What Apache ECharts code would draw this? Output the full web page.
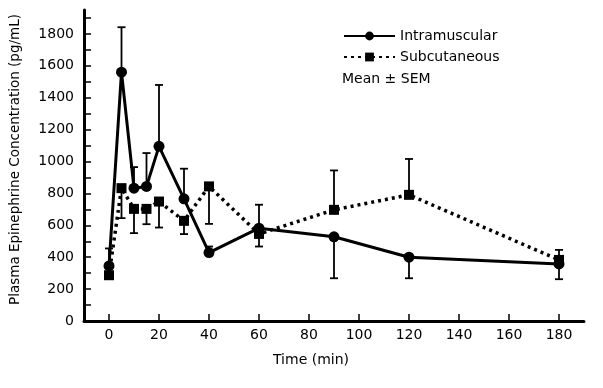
<!DOCTYPE html>
<html>
<head>
<meta charset="utf-8">
<script src="https://cdn.jsdelivr.net/npm/echarts@6/dist/echarts.min.js"></script>
<style>
html,body{margin:0;padding:0;background:#fff;}
#c{width:603px;height:388px;}
</style>
</head>
<body>
<div id="c"></div>
<script>
// Data
var times = [0, 5, 10, 15, 20, 30, 40, 60, 90, 120, 180];
var imMean = [345, 1560, 833, 844, 1095, 766, 429, 582, 528, 400, 358];
var imErrEnd = [455, 1842, 965, 1053, 1480, 955, 467, 729, 268, 268, 262];
var scMean = [287, 833, 703, 703, 749, 628, 844, 546, 697, 791, 383];
var scErrEnd = [287, 645, 551, 607, 586, 545, 609, 467, 944, 1016, 446];
var yTicks = [0,100,200,300,400,500,600,700,800,900,1000,1100,1200,1300,1400,1500,1600,1700,1800,1900];
var yLabels = [0,200,400,600,800,1000,1200,1400,1600,1800];
var xTicks = [0,20,40,60,80,100,120,140,160,180];

var FONT = 'DejaVu Sans';

function pairs(xs, ys){ return xs.map(function(x,i){return [x, ys[i]];}); }
function errData(xs, m, e){ return xs.map(function(x,i){return [x, m[i], e[i]];}); }

function errRender(params, api){
  var x = api.value(0), m = api.value(1), e = api.value(2);
  if (m === e) return null;
  var p1 = api.coord([x, m]);
  var p2 = api.coord([x, e]);
  var cap = 4;
  var st = {stroke:'#000', lineWidth:1.8};
  return {type:'group', children:[
    {type:'line', shape:{x1:p1[0], y1:p1[1], x2:p2[0], y2:p2[1]}, style:st},
    {type:'line', shape:{x1:p2[0]-cap, y1:p2[1], x2:p2[0]+cap, y2:p2[1]}, style:st}
  ]};
}

var chart = echarts.init(document.getElementById('c'), null, {renderer:'canvas'});
chart.setOption({
  animation:false,
  backgroundColor:'#fff',
  textStyle:{fontFamily:FONT, color:'#000'},
  grid:{left:82, right:19, top:10, bottom:67, containLabel:false},
  legend:{
    orient:'vertical', left:343, top:29, padding:0, itemWidth:51, itemHeight:11, itemGap:7,
    textStyle:{fontFamily:FONT, fontSize:14, color:'#000'},
    data:['Intramuscular','Subcutaneous']
  },
  graphic:[{type:'text', left:342, top:72, style:{text:'Mean \u00b1 SEM', font:'14px '+FONT, fill:'#000'}}],
  xAxis:{
    type:'value', min:-10, max:190,
    name:'Time (min)', nameLocation:'middle', nameGap:32,
    nameTextStyle:{fontFamily:FONT, fontSize:14, color:'#000', padding:[0,46,0,0]},
    axisLine:{onZero:false, lineStyle:{color:'#000', width:3}},
    axisTick:{inside:true, length:7, lineStyle:{color:'#000', width:1.5}, customValues:xTicks},
    axisLabel:{fontFamily:FONT, fontSize:14, color:'#000', margin:7, customValues:xTicks,
               formatter:function(v){return String(v);}},
    splitLine:{show:false}
  },
  yAxis:{
    type:'value', min:0, max:1950,
    name:'Plasma Epinephrine Concentration (pg/mL)', nameLocation:'middle', nameGap:62,
    nameTextStyle:{fontFamily:FONT, fontSize:13.5, color:'#000', padding:[0,0,0,12]},
    axisLine:{show:true, onZero:false, lineStyle:{color:'#000', width:3}},
    axisTick:{show:true, inside:true, length:7, lineStyle:{color:'#000', width:1.5}, customValues:yTicks},
    axisLabel:{fontFamily:FONT, fontSize:14, color:'#000', margin:10, customValues:yLabels,
               formatter:function(v){return String(v);}},
    splitLine:{show:false}
  },
  series:[
    {type:'custom', name:'imErr', renderItem:errRender, data:errData(times, imMean, imErrEnd), z:1, silent:true},
    {type:'custom', name:'scErr', renderItem:errRender, data:errData(times, scMean, scErrEnd), z:1, silent:true},
    {type:'line', name:'Intramuscular', data:pairs(times, imMean), symbol:'circle', symbolSize:11,
     lineStyle:{color:'#000', width:3}, itemStyle:{color:'#000'}, z:3},
    {type:'line', name:'Subcutaneous', data:pairs(times, scMean), symbol:'rect', symbolSize:10,
     lineStyle:{color:'#000', width:3.5, type:[3,4]}, itemStyle:{color:'#000'}, z:2}
  ]
});
</script>
</body>
</html>
